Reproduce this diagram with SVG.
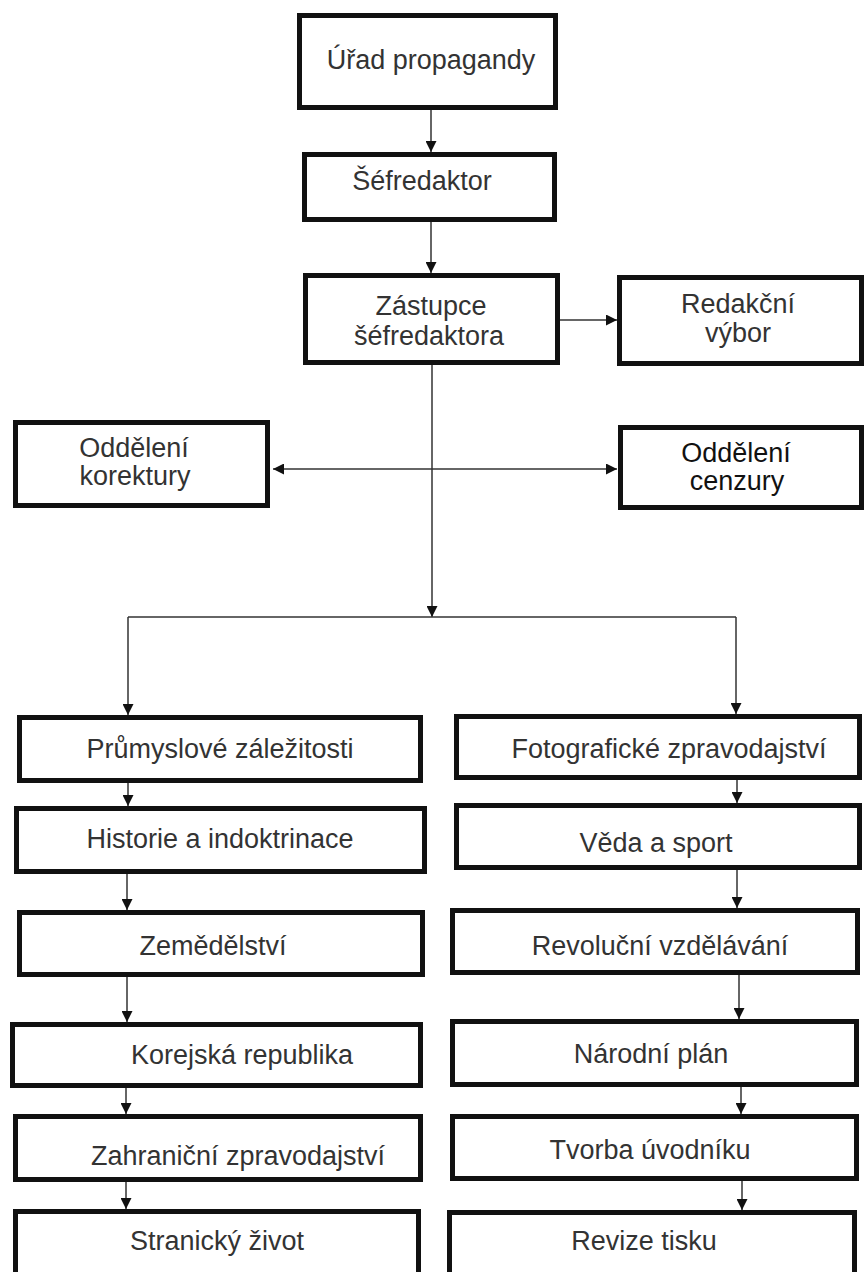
<svg xmlns="http://www.w3.org/2000/svg" width="864" height="1272" viewBox="0 0 864 1272">
<style>
.box{fill:#fff;stroke:#111;stroke-width:5}
.t{font-family:"Liberation Sans",Arial,sans-serif;font-size:27px;fill:#333;text-anchor:middle}
.c{fill:none;stroke:#333;stroke-width:1.5}
</style>
<defs>
<marker id="ah" viewBox="0 0 10 10" refX="10" refY="5" markerWidth="11" markerHeight="11" markerUnits="userSpaceOnUse" orient="auto">
<path d="M0,0 L10,5 L0,10 z" fill="#111"/>
</marker>
</defs>
<rect width="864" height="1272" fill="#fff"/>
<g id="connectors">
<path class="c" d="M431,110 V152" marker-end="url(#ah)"/>
<path class="c" d="M431,222 V273" marker-end="url(#ah)"/>
<path class="c" d="M560,320 H617" marker-end="url(#ah)"/>
<path class="c" d="M432,365 V617" marker-end="url(#ah)"/>
<path class="c" d="M432,469 H273" marker-end="url(#ah)"/>
<path class="c" d="M432,469 H617" marker-end="url(#ah)"/>
<path class="c" d="M128,617 H736"/>
<path class="c" d="M128,617 V715" marker-end="url(#ah)"/>
<path class="c" d="M736,617 V714" marker-end="url(#ah)"/>
<path class="c" d="M128,783 V806" marker-end="url(#ah)"/>
<path class="c" d="M127,874 V910" marker-end="url(#ah)"/>
<path class="c" d="M127,977 V1022" marker-end="url(#ah)"/>
<path class="c" d="M126,1088 V1114" marker-end="url(#ah)"/>
<path class="c" d="M126,1182 V1209" marker-end="url(#ah)"/>
<path class="c" d="M737,780 V803" marker-end="url(#ah)"/>
<path class="c" d="M737,870 V908" marker-end="url(#ah)"/>
<path class="c" d="M739,975 V1019" marker-end="url(#ah)"/>
<path class="c" d="M741,1087 V1114" marker-end="url(#ah)"/>
<path class="c" d="M742,1181 V1210" marker-end="url(#ah)"/>
</g>
<g id="urad"><rect class="box" x="299.5" y="15.5" width="256" height="92"/><text class="t" x="431" y="69">Úřad propagandy</text></g>
<g id="sefredaktor"><rect class="box" x="304.5" y="154.5" width="250" height="65"/><text class="t" x="422" y="190">Šéfredaktor</text></g>
<g id="zastupce"><rect class="box" x="305.5" y="275.5" width="252" height="87"/><text class="t" x="431" y="315">Zástupce</text><text class="t" x="429" y="345">šéfredaktora</text></g>
<g id="redakcni"><rect class="box" x="619.5" y="277.5" width="242" height="86"/><text class="t" x="738" y="313">Redakční</text><text class="t" x="738" y="342">výbor</text></g>
<g id="korektury"><rect class="box" x="15.5" y="422.5" width="252" height="83"/><text class="t" x="134" y="457">Oddělení</text><text class="t" x="135" y="485">korektury</text></g>
<g id="cenzury"><rect class="box" x="620.5" y="427.5" width="241" height="80"/><text class="t" x="736" y="462" style="fill:#111">Oddělení</text><text class="t" x="737" y="490" style="fill:#111">cenzury</text></g>
<g id="prumyslove"><rect class="box" x="19.5" y="717.5" width="401" height="63"/><text class="t" x="220" y="758">Průmyslové záležitosti</text></g>
<g id="historie"><rect class="box" x="16.5" y="808.5" width="408" height="63"/><text class="t" x="220" y="848">Historie a indoktrinace</text></g>
<g id="zemedelstvi"><rect class="box" x="19.5" y="912.5" width="403" height="62"/><text class="t" x="213" y="955">Zemědělství</text></g>
<g id="korejska"><rect class="box" x="12.5" y="1024.5" width="408" height="61"/><text class="t" x="242" y="1064">Korejská republika</text></g>
<g id="zahranicni"><rect class="box" x="15.5" y="1116.5" width="405" height="63"/><text class="t" x="238" y="1165">Zahraniční zpravodajství</text></g>
<g id="stranicky"><rect class="box" x="15.5" y="1211.5" width="403" height="66"/><text class="t" x="217" y="1250">Stranický život</text></g>
<g id="fotograficke"><rect class="box" x="456.5" y="716.5" width="403" height="61"/><text class="t" x="669" y="758">Fotografické zpravodajství</text></g>
<g id="veda"><rect class="box" x="456.5" y="805.5" width="403" height="62"/><text class="t" x="656" y="852">Věda a sport</text></g>
<g id="revolucni"><rect class="box" x="452.5" y="910.5" width="405" height="62"/><text class="t" x="660" y="955">Revoluční vzdělávání</text></g>
<g id="narodni"><rect class="box" x="452.5" y="1021.5" width="404" height="63"/><text class="t" x="651" y="1063">Národní plán</text></g>
<g id="tvorba"><rect class="box" x="452.5" y="1116.5" width="404" height="62"/><text class="t" x="650" y="1159">Tvorba úvodníku</text></g>
<g id="revize"><rect class="box" x="449.5" y="1212.5" width="405" height="66"/><text class="t" x="644" y="1250">Revize tisku</text></g>
</svg>
